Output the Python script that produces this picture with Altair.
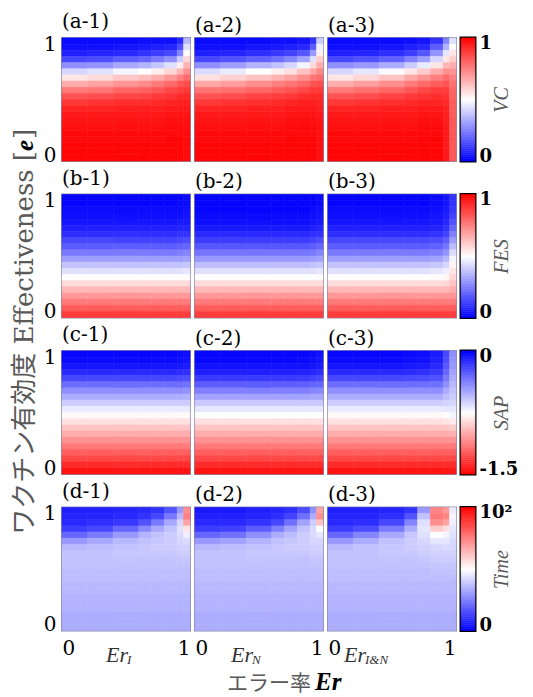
import altair as alt
import numpy as np
import pandas as pd

SERIF = "DejaVu Serif"
TIMES = "Liberation Serif"
JPX = "Noto Sans CJK JP"
JPMIX = "DejaVu Serif, Noto Sans CJK JP"
GRAY = "#595959"

PW, PH, CBW = 128, 123, 14

# x-column edges (Er) and y-row edges (e, top -> bottom)
XE = [0.0, 0.2, 0.4, 0.6, 0.7, 0.8, 0.9, 0.95, 1.0]
YE = [1.0, 0.95, 0.9, 0.85, 0.8, 0.75, 0.7, 0.65, 0.6, 0.55, 0.5,
      0.45, 0.4, 0.35, 0.3, 0.25, 0.2, 0.15, 0.1, 0.05, 0.0]

# Each panel: 8 columns (left -> right), 20 values each (e = 1 at top -> e = 0 at bottom)
# VC and FES in percent, SAP in its own units, Time in its own units
VC_A1 = [
    [2, 3, 6, 14, 28, 42, 55, 66, 76, 84, 89, 93, 95, 96, 97, 98, 98, 99, 99, 99],
    [2, 3, 7, 15, 29, 44, 57, 68, 77, 85, 90, 93, 95, 96, 97, 98, 98, 99, 99, 99],
    [2, 4, 8, 18, 33, 48, 61, 71, 80, 86, 91, 94, 95, 96, 97, 98, 98, 99, 99, 99],
    [3, 5, 10, 20, 35, 50, 63, 73, 81, 87, 91, 94, 95, 96, 97, 98, 98, 99, 99, 99],
    [3, 6, 12, 24, 39, 53, 66, 76, 83, 89, 92, 94, 95, 96, 97, 98, 98, 99, 99, 99],
    [3, 7, 14, 28, 44, 58, 70, 79, 86, 90, 93, 95, 96, 97, 98, 98, 99, 99, 99, 99],
    [8, 15, 26, 40, 53, 65, 75, 83, 88, 92, 94, 95, 96, 97, 98, 98, 99, 99, 99, 99],
    [36, 44, 51, 58, 65, 72, 79, 85, 89, 92, 94, 95, 96, 97, 97, 98, 98, 98, 98, 98],
]
VC_A2 = [
    [2, 3, 6, 14, 28, 43, 56, 67, 77, 84, 89, 93, 95, 96, 97, 98, 98, 99, 99, 99],
    [2, 3, 7, 16, 31, 46, 59, 69, 78, 85, 90, 93, 95, 96, 97, 98, 98, 99, 99, 99],
    [2, 4, 9, 19, 35, 50, 62, 72, 80, 87, 91, 94, 95, 96, 97, 98, 98, 99, 99, 99],
    [3, 5, 11, 22, 38, 53, 65, 75, 82, 88, 92, 94, 95, 96, 97, 98, 98, 99, 99, 99],
    [3, 6, 13, 26, 42, 56, 68, 77, 84, 89, 93, 95, 96, 97, 98, 98, 99, 99, 99, 99],
    [4, 8, 17, 32, 48, 62, 72, 80, 86, 91, 94, 95, 96, 97, 98, 98, 99, 99, 99, 99],
    [10, 18, 30, 44, 57, 68, 77, 84, 89, 92, 94, 95, 96, 97, 98, 98, 99, 99, 99, 99],
    [40, 47, 53, 60, 66, 73, 79, 85, 89, 92, 93, 94, 95, 96, 97, 97, 97, 97, 97, 97],
]
VC_A3 = [
    [2, 3, 6, 14, 28, 42, 55, 66, 76, 84, 89, 93, 95, 96, 97, 98, 98, 99, 99, 99],
    [2, 3, 7, 16, 30, 45, 58, 69, 78, 85, 90, 93, 95, 96, 97, 98, 98, 99, 99, 99],
    [2, 4, 9, 19, 34, 49, 62, 72, 80, 87, 91, 94, 95, 96, 97, 98, 98, 99, 99, 99],
    [3, 6, 12, 25, 40, 55, 67, 76, 83, 89, 92, 94, 95, 96, 97, 98, 98, 99, 99, 99],
    [4, 8, 17, 31, 46, 60, 71, 79, 86, 90, 93, 95, 96, 97, 98, 98, 99, 99, 99, 99],
    [10, 18, 29, 42, 55, 66, 75, 82, 88, 91, 93, 95, 96, 97, 98, 98, 99, 99, 99, 99],
    [26, 35, 45, 55, 64, 72, 79, 84, 88, 90, 92, 93, 94, 94, 95, 95, 95, 95, 95, 95],
    [44, 49, 55, 60, 66, 71, 75, 78, 80, 81, 82, 82, 82, 83, 83, 83, 83, 83, 83, 83],
]
FES_B1 = [
    [1, 1, 2, 3, 4, 6, 9, 14, 18, 24, 31, 38, 44, 50, 57, 64, 70, 76, 82, 88],
    [1, 1, 2, 3, 4, 6, 9, 14, 18, 24, 31, 38, 44, 50, 57, 64, 70, 76, 82, 88],
    [1, 1, 2, 3, 4, 6, 9, 13, 18, 24, 31, 38, 44, 50, 57, 64, 70, 76, 82, 88],
    [1, 1, 2, 3, 4, 6, 9, 13, 18, 24, 31, 38, 44, 50, 57, 64, 70, 76, 82, 88],
    [1, 1, 2, 3, 4, 6, 9, 13, 18, 24, 31, 38, 44, 50, 57, 64, 70, 76, 82, 88],
    [1, 1, 2, 3, 4, 6, 9, 13, 18, 24, 31, 38, 44, 50, 57, 64, 70, 76, 82, 88],
    [1, 2, 2, 3, 5, 7, 10, 14, 19, 25, 31, 38, 44, 50, 57, 64, 70, 76, 82, 88],
    [2, 2, 3, 4, 5, 7, 10, 15, 20, 26, 32, 39, 45, 51, 57, 64, 70, 76, 82, 88],
]
FES_B2 = [
    [1, 1, 1, 2, 3, 5, 8, 12, 17, 23, 30, 37, 44, 50, 57, 64, 70, 76, 82, 88],
    [1, 1, 1, 2, 3, 5, 8, 12, 17, 23, 30, 37, 44, 50, 57, 64, 70, 76, 82, 88],
    [1, 1, 1, 2, 3, 5, 8, 12, 17, 23, 30, 37, 44, 50, 57, 64, 70, 76, 82, 88],
    [1, 1, 1, 2, 3, 5, 8, 12, 17, 23, 30, 37, 44, 50, 57, 64, 70, 76, 82, 88],
    [1, 1, 1, 2, 3, 5, 8, 12, 17, 23, 30, 37, 44, 50, 57, 64, 70, 76, 82, 88],
    [1, 1, 1, 2, 3, 5, 8, 12, 17, 23, 30, 37, 44, 50, 57, 64, 70, 76, 82, 88],
    [1, 1, 2, 3, 4, 6, 9, 13, 18, 24, 31, 38, 44, 50, 57, 64, 70, 76, 82, 88],
    [2, 2, 3, 4, 5, 7, 10, 15, 20, 26, 32, 39, 45, 51, 57, 64, 70, 76, 82, 88],
]
FES_B3 = [
    [1, 1, 2, 3, 4, 6, 9, 14, 18, 24, 31, 38, 44, 50, 57, 64, 70, 76, 82, 88],
    [1, 1, 2, 3, 4, 6, 9, 14, 18, 24, 31, 38, 44, 50, 57, 64, 70, 76, 82, 88],
    [1, 1, 2, 3, 4, 6, 9, 14, 18, 24, 31, 38, 44, 50, 57, 64, 70, 76, 82, 88],
    [1, 1, 2, 3, 4, 6, 9, 14, 18, 24, 31, 38, 44, 50, 57, 64, 70, 76, 82, 88],
    [1, 1, 2, 3, 4, 6, 9, 14, 18, 24, 31, 38, 44, 50, 57, 64, 70, 76, 82, 88],
    [2, 2, 3, 4, 5, 7, 10, 15, 19, 25, 32, 39, 45, 51, 57, 64, 70, 76, 82, 88],
    [4, 4, 5, 6, 8, 10, 13, 18, 23, 29, 36, 42, 47, 52, 58, 64, 70, 76, 82, 88],
    [10, 10, 11, 13, 16, 20, 25, 31, 37, 43, 48, 52, 55, 58, 62, 66, 71, 76, 82, 88],
]
SAP_C1 = [
    [-0.02, -0.03, -0.06, -0.12, -0.21, -0.32, -0.42, -0.51, -0.60, -0.69, -0.77, -0.84, -0.92, -0.99, -1.07, -1.14, -1.22, -1.29, -1.37, -1.44],
    [-0.02, -0.03, -0.06, -0.12, -0.21, -0.32, -0.42, -0.51, -0.60, -0.69, -0.77, -0.84, -0.92, -0.99, -1.07, -1.14, -1.22, -1.29, -1.37, -1.44],
    [-0.02, -0.03, -0.06, -0.12, -0.21, -0.32, -0.42, -0.51, -0.60, -0.69, -0.77, -0.84, -0.92, -0.99, -1.07, -1.14, -1.22, -1.29, -1.37, -1.44],
    [-0.02, -0.03, -0.06, -0.12, -0.21, -0.32, -0.42, -0.51, -0.60, -0.69, -0.77, -0.84, -0.92, -0.99, -1.07, -1.14, -1.22, -1.29, -1.37, -1.44],
    [-0.02, -0.03, -0.06, -0.12, -0.21, -0.32, -0.42, -0.51, -0.60, -0.69, -0.77, -0.84, -0.92, -0.99, -1.07, -1.14, -1.22, -1.29, -1.37, -1.44],
    [-0.02, -0.03, -0.06, -0.12, -0.21, -0.32, -0.42, -0.51, -0.60, -0.69, -0.77, -0.84, -0.92, -0.99, -1.07, -1.14, -1.22, -1.29, -1.37, -1.44],
    [-0.03, -0.04, -0.07, -0.13, -0.22, -0.32, -0.42, -0.51, -0.60, -0.69, -0.77, -0.84, -0.92, -0.99, -1.07, -1.14, -1.22, -1.29, -1.37, -1.44],
    [-0.04, -0.05, -0.08, -0.14, -0.23, -0.33, -0.43, -0.52, -0.60, -0.69, -0.77, -0.84, -0.92, -0.99, -1.07, -1.14, -1.22, -1.29, -1.37, -1.44],
]
SAP_C2 = [
    [-0.02, -0.02, -0.05, -0.09, -0.17, -0.27, -0.38, -0.48, -0.59, -0.68, -0.75, -0.84, -0.92, -0.99, -1.07, -1.14, -1.22, -1.29, -1.37, -1.44],
    [-0.02, -0.02, -0.05, -0.09, -0.17, -0.27, -0.38, -0.48, -0.59, -0.68, -0.75, -0.84, -0.92, -0.99, -1.07, -1.14, -1.22, -1.29, -1.37, -1.44],
    [-0.02, -0.02, -0.05, -0.09, -0.17, -0.27, -0.38, -0.48, -0.59, -0.68, -0.75, -0.84, -0.92, -0.99, -1.07, -1.14, -1.22, -1.29, -1.37, -1.44],
    [-0.02, -0.02, -0.05, -0.09, -0.17, -0.27, -0.38, -0.48, -0.59, -0.68, -0.75, -0.84, -0.92, -0.99, -1.07, -1.14, -1.22, -1.29, -1.37, -1.44],
    [-0.02, -0.02, -0.05, -0.09, -0.17, -0.27, -0.38, -0.48, -0.59, -0.68, -0.75, -0.84, -0.92, -0.99, -1.07, -1.14, -1.22, -1.29, -1.37, -1.44],
    [-0.02, -0.03, -0.05, -0.10, -0.18, -0.28, -0.38, -0.48, -0.59, -0.68, -0.75, -0.84, -0.92, -0.99, -1.07, -1.14, -1.22, -1.29, -1.37, -1.44],
    [-0.03, -0.04, -0.06, -0.11, -0.19, -0.29, -0.39, -0.49, -0.59, -0.68, -0.75, -0.84, -0.92, -0.99, -1.07, -1.14, -1.22, -1.29, -1.37, -1.44],
    [-0.05, -0.06, -0.08, -0.13, -0.21, -0.30, -0.40, -0.49, -0.59, -0.68, -0.75, -0.84, -0.92, -0.99, -1.07, -1.14, -1.22, -1.29, -1.37, -1.44],
]
SAP_C3 = [
    [-0.02, -0.03, -0.06, -0.12, -0.21, -0.32, -0.42, -0.51, -0.60, -0.69, -0.77, -0.84, -0.92, -0.99, -1.07, -1.14, -1.22, -1.29, -1.37, -1.44],
    [-0.02, -0.03, -0.06, -0.12, -0.21, -0.32, -0.42, -0.51, -0.60, -0.69, -0.77, -0.84, -0.92, -0.99, -1.07, -1.14, -1.22, -1.29, -1.37, -1.44],
    [-0.02, -0.03, -0.06, -0.12, -0.21, -0.32, -0.42, -0.51, -0.60, -0.69, -0.77, -0.84, -0.92, -0.99, -1.07, -1.14, -1.22, -1.29, -1.37, -1.44],
    [-0.03, -0.04, -0.07, -0.13, -0.22, -0.32, -0.42, -0.51, -0.60, -0.69, -0.77, -0.84, -0.92, -0.99, -1.07, -1.14, -1.22, -1.29, -1.37, -1.44],
    [-0.04, -0.05, -0.08, -0.14, -0.22, -0.32, -0.42, -0.51, -0.60, -0.69, -0.77, -0.84, -0.92, -0.99, -1.07, -1.14, -1.22, -1.29, -1.37, -1.44],
    [-0.08, -0.09, -0.12, -0.17, -0.24, -0.33, -0.42, -0.51, -0.60, -0.69, -0.77, -0.84, -0.92, -0.99, -1.07, -1.14, -1.22, -1.29, -1.37, -1.44],
    [-0.21, -0.23, -0.26, -0.30, -0.36, -0.42, -0.50, -0.56, -0.62, -0.68, -0.75, -0.83, -0.92, -0.99, -1.07, -1.14, -1.22, -1.29, -1.37, -1.44],
    [-0.42, -0.44, -0.45, -0.48, -0.51, -0.54, -0.57, -0.60, -0.63, -0.68, -0.72, -0.81, -0.90, -0.98, -1.07, -1.14, -1.22, -1.29, -1.37, -1.43],
]
TIME_D1 = [
    [6, 7, 8, 12, 20, 30, 36, 38, 38, 38, 37, 37, 36, 36, 35, 35, 35, 34, 34, 34],
    [6, 7, 9, 14, 24, 33, 37, 38, 38, 38, 37, 37, 36, 36, 35, 35, 35, 34, 34, 34],
    [7, 8, 11, 20, 30, 36, 38, 39, 38, 38, 37, 37, 36, 36, 35, 35, 35, 34, 34, 34],
    [8, 10, 16, 27, 35, 38, 39, 39, 38, 38, 37, 37, 36, 36, 35, 35, 35, 34, 34, 34],
    [10, 14, 24, 33, 38, 39, 40, 39, 38, 38, 37, 37, 36, 36, 35, 35, 35, 34, 34, 34],
    [16, 24, 33, 38, 40, 40, 40, 39, 38, 38, 37, 37, 36, 36, 35, 35, 35, 34, 34, 34],
    [30, 36, 42, 44, 43, 42, 41, 40, 39, 38, 37, 37, 36, 36, 35, 35, 35, 34, 34, 34],
    [72, 75, 68, 55, 47, 43, 41, 40, 39, 38, 37, 37, 36, 36, 35, 35, 35, 34, 34, 34],
]
TIME_D2 = [
    [5, 6, 8, 12, 20, 30, 36, 38, 38, 38, 37, 37, 36, 36, 35, 35, 35, 34, 34, 34],
    [5, 6, 8, 13, 22, 32, 37, 38, 38, 38, 37, 37, 36, 36, 35, 35, 35, 34, 34, 34],
    [6, 7, 10, 18, 28, 35, 38, 39, 38, 38, 37, 37, 36, 36, 35, 35, 35, 34, 34, 34],
    [7, 9, 14, 25, 34, 38, 39, 39, 38, 38, 37, 37, 36, 36, 35, 35, 35, 34, 34, 34],
    [9, 13, 22, 32, 37, 39, 40, 39, 38, 38, 37, 37, 36, 36, 35, 35, 35, 34, 34, 34],
    [15, 22, 32, 38, 40, 40, 40, 39, 38, 38, 37, 37, 36, 36, 35, 35, 35, 34, 34, 34],
    [28, 34, 40, 43, 43, 42, 41, 40, 39, 38, 37, 37, 36, 36, 35, 35, 35, 34, 34, 34],
    [68, 72, 62, 50, 45, 42, 41, 40, 39, 38, 37, 37, 36, 36, 35, 35, 35, 34, 34, 34],
]
TIME_D3 = [
    [6, 7, 8, 12, 20, 30, 36, 38, 38, 38, 37, 37, 36, 36, 35, 35, 35, 34, 34, 34],
    [6, 7, 9, 15, 26, 34, 38, 38, 38, 38, 37, 37, 36, 36, 35, 35, 35, 34, 34, 34],
    [7, 9, 14, 24, 33, 38, 39, 39, 38, 38, 37, 37, 36, 36, 35, 35, 35, 34, 34, 34],
    [10, 16, 26, 34, 39, 40, 40, 39, 38, 38, 37, 37, 36, 36, 35, 35, 35, 34, 34, 34],
    [30, 38, 44, 45, 44, 42, 41, 40, 39, 38, 37, 37, 36, 36, 35, 35, 35, 34, 34, 34],
    [74, 76, 72, 60, 50, 45, 42, 41, 40, 39, 38, 37, 36, 36, 35, 35, 35, 34, 34, 34],
    [70, 74, 68, 56, 48, 45, 43, 41, 40, 39, 38, 37, 36, 36, 35, 35, 35, 34, 34, 34],
    [46, 48, 47, 45, 44, 43, 42, 41, 40, 39, 38, 37, 36, 36, 35, 35, 35, 34, 34, 34],
]

ROWS = [
    ("a", [VC_A1, VC_A2, VC_A3], 0.01, (0.0, 1.0), "VC"),
    ("b", [FES_B1, FES_B2, FES_B3], 0.01, (0.0, 1.0), "FES"),
    ("c", [SAP_C1, SAP_C2, SAP_C3], 1.0, (-1.5, 0.0), "SAP"),
    ("d", [TIME_D1, TIME_D2, TIME_D3], 1.0, (0.0, 100.0), "Time"),
]
CB_LABELS = {"VC": "datum.value > 0.5 ? '1' : '0'",
             "FES": "datum.value > 0.5 ? '1' : '0'",
             "SAP": "datum.value > -0.5 ? '0' : '-1.5'",
             "Time": "datum.value > 50 ? '10²' : '0'"}
SUBS = ["I", "N", "I&N"]
SUB_X = [44, 36, 16]

BLUE, WHITE, RED = "#0000ff", "#ffffff", "#ff0000"
ONE = pd.DataFrame({"k": [0]})
IND = dict(x="independent", y="independent", color="independent", stroke="independent")


def cscale(lo, hi, name):
    mid = (lo + hi) / 2
    rng = [RED, WHITE, BLUE] if name == "SAP" else [BLUE, WHITE, RED]
    return alt.Scale(domain=[lo, mid, hi], range=rng, interpolate="rgb", clamp=True)


def cells(cols, factor):
    recs = []
    for i, col in enumerate(cols):
        for j, v in enumerate(col):
            recs.append({"x0": XE[i], "x1": XE[i + 1], "y0": YE[j + 1], "y1": YE[j], "v": v * factor})
    return pd.DataFrame(recs)


def txt(text, x, y, **kw):
    return alt.Chart(ONE).mark_text(**kw).encode(x=alt.value(x), y=alt.value(y), text=alt.value(text))


def panel(cols, factor, sc, key, ci):
    bottom = key == "d"
    xs = alt.Scale(domain=[0, 1], nice=False, zero=False)
    ys = alt.Scale(domain=[0, 1], nice=False, zero=False)
    xaxis = alt.Axis(values=[0, 1], format=".1~f", ticks=False, domain=False, grid=False,
                     labelFlush=True, labelFont=SERIF, labelFontSize=20, labelColor="black",
                     labelPadding=8, title=None) if bottom else None
    yaxis = alt.Axis(values=[0, 1], format=".1~f", ticks=False, domain=False, grid=False,
                     labelFlush=True, labelFlushOffset=4, labelFont=SERIF, labelFontSize=20,
                     labelColor="black", labelPadding=6, title=None) if ci == 0 else None
    rect = alt.Chart(cells(cols, factor)).mark_rect(strokeWidth=0.6).encode(
        x=alt.X("x0:Q", scale=xs, axis=xaxis),
        x2="x1:Q",
        y=alt.Y("y0:Q", scale=ys, axis=yaxis),
        y2="y1:Q",
        color=alt.Color("v:Q", scale=sc, legend=None),
        stroke=alt.Stroke("v:Q", scale=sc, legend=None),
    )
    layers = [rect]
    if bottom:
        sx = SUB_X[ci]
        layers.append(txt("Er", sx, PH + 31, font=TIMES, fontSize=22, fontStyle="italic",
                          align="left", baseline="alphabetic", color="#333333"))
        layers.append(txt(SUBS[ci], sx + 21, PH + 33, font=TIMES, fontSize=13, fontStyle="italic",
                          align="left", baseline="alphabetic", color="#333333"))
        if ci == 1:
            layers.append(txt("エラー率", 116, 182, font=JPX, fontSize=21, align="right",
                              baseline="alphabetic", color=GRAY))
            layers.append(txt("Er", 120, 182, font=TIMES, fontSize=25, fontStyle="italic",
                              fontWeight="bold", align="left", baseline="alphabetic", color="black"))
    if key == "a" and ci == 0:
        layers.append(txt("ワクチン有効度 Effectiveness [", -37, 113, font=JPMIX, fontSize=26,
                          color=GRAY, angle=270, align="right", baseline="middle"))
        layers.append(txt("e", -37, 113, font=TIMES, fontSize=25, fontStyle="italic", fontWeight="bold",
                          color="black", angle=270, align="left", baseline="middle"))
        layers.append(txt("]", -37, 101, font=SERIF, fontSize=26, color=GRAY, angle=270,
                          align="left", baseline="middle"))
    return alt.layer(*layers).properties(
        width=PW, height=PH,
        title=alt.TitleParams(f"({key}-{ci + 1})", anchor="start", frame="group", font=SERIF,
                              fontSize=20, fontWeight="normal", color="black", offset=2),
        view=alt.ViewBackground(stroke="#8c8ca8", strokeWidth=2),
    )


def colorbar(lo, hi, sc, name):
    lev = np.linspace(lo, hi, 61)
    df = pd.DataFrame({"a": lev[:-1], "b": lev[1:], "m": (lev[:-1] + lev[1:]) / 2})
    axis = alt.Axis(orient="right", values=[lo, hi], labelExpr=CB_LABELS[name], ticks=False,
                    domain=False, grid=False, labelFlush=True, labelFlushOffset=4, labelFont=SERIF,
                    labelFontSize=18, labelFontWeight="bold", labelColor="black", labelPadding=4,
                    title=name, titleFont=TIMES, titleFontStyle="italic", titleFontWeight="normal",
                    titleFontSize=20, titleColor=GRAY, titleAngle=270, titleAlign="center",
                    titleBaseline="middle", titleX=26, titleY=PH / 2)
    ch = alt.Chart(df).mark_rect(strokeWidth=0.6).encode(
        x=alt.value(0), x2=alt.value(CBW),
        y=alt.Y("a:Q", scale=alt.Scale(domain=[lo, hi], nice=False, zero=False), axis=axis),
        y2="b:Q",
        color=alt.Color("m:Q", scale=sc, legend=None),
        stroke=alt.Stroke("m:Q", scale=sc, legend=None),
    )
    return ch.properties(width=CBW, height=PH,
                         view=alt.ViewBackground(stroke="black", strokeWidth=3))


cells_list = []
for key, panels, factor, (lo, hi), name in ROWS:
    sc = cscale(lo, hi, name)
    for i, p in enumerate(panels):
        cells_list.append(panel(p, factor, sc, key, i))
    cells_list.append(colorbar(lo, hi, sc, name))

chart = alt.concat(
    *cells_list, columns=4, spacing={"row": 33.5, "column": 5}, bounds="flush", align="each"
).resolve_scale(**IND).properties(
    padding={"left": 3, "top": 3, "right": 0, "bottom": 0}
).configure_view(strokeWidth=0).configure(background="white")

chart.save("out.html", embed_options={"renderer": "svg", "actions": False})
